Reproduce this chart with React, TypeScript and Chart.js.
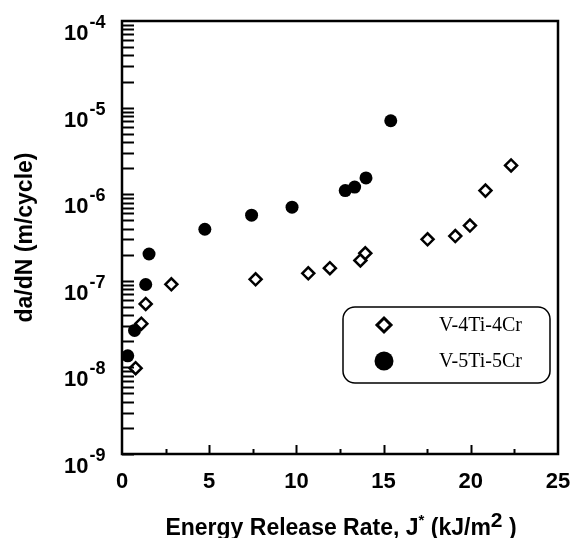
import React, { useEffect, useRef } from "react";
import { Chart, registerables } from "chart.js";

Chart.register(...registerables);

// V-4Ti-4Cr (open diamonds)
const jV4Ti4Cr = [0.78, 1.11, 1.36, 2.83, 7.66, 10.68, 11.92, 13.67, 13.95, 17.52, 19.11, 19.95, 20.84, 22.31];
const rateV4Ti4Cr = [9.8e-9, 3.2e-8, 5.4e-8, 9.1e-8, 1.04e-7, 1.22e-7, 1.4e-7, 1.72e-7, 2.08e-7, 3.01e-7, 3.29e-7, 4.34e-7, 1.1e-6, 2.15e-6];

// V-5Ti-5Cr (filled circles)
const jV5Ti5Cr = [0.33, 0.72, 1.36, 1.55, 4.75, 7.43, 9.75, 12.8, 13.34, 13.99, 15.41];
const rateV5Ti5Cr = [1.36e-8, 2.67e-8, 9.06e-8, 2.04e-7, 3.94e-7, 5.73e-7, 7.08e-7, 1.1e-6, 1.21e-6, 1.54e-6, 7.05e-6];

const seriesNames = ["V-4Ti-4Cr", "V-5Ti-5Cr"];
const xTickValues = [0, 5, 10, 15, 20, 25];
const yTickExponents = [-9, -8, -7, -6, -5, -4];
const xTitleParts = ["Energy Release Rate, J", "*", " (kJ/m", "2", " )"];
const yTitle = "da/dN (m/cycle)";

const SANS = "'Liberation Sans', Arial, sans-serif";
const SERIF = "'Liberation Serif', 'Times New Roman', serif";

const decorPlugin = {
  id: "decor",
  afterDraw(chart: any) {
    const ctx = chart.ctx as CanvasRenderingContext2D;
    const { left, right, top, bottom } = chart.chartArea;
    const xs = chart.scales.x;
    const ys = chart.scales.y;
    ctx.save();
    ctx.strokeStyle = "#000";
    ctx.fillStyle = "#000";

    // y ticks (inward)
    ctx.lineWidth = 2;
    for (let e = -9; e < -4; e++) {
      for (let m = 1; m <= 9; m++) {
        const py = Math.round(ys.getPixelForValue(m * Math.pow(10, e))) + 0.5;
        ctx.beginPath();
        ctx.moveTo(left, py);
        ctx.lineTo(left + 12, py);
        ctx.stroke();
      }
    }
    // x ticks (inward)
    for (let v = 2.5; v < 25; v += 2.5) {
      const px = Math.round(xs.getPixelForValue(v)) + 0.5;
      const len = Math.abs(v % 5) < 1e-6 ? 9 : 5;
      ctx.beginPath();
      ctx.moveTo(px, bottom);
      ctx.lineTo(px, bottom - len);
      ctx.stroke();
    }

    // frame
    ctx.lineWidth = 2.5;
    ctx.strokeRect(left, top, right - left, bottom - top);

    // y tick labels 10^n
    for (const e of yTickExponents) {
      const py = ys.getPixelForValue(Math.pow(10, e));
      ctx.font = `bold 22px ${SANS}`;
      ctx.textAlign = "left";
      ctx.textBaseline = "alphabetic";
      ctx.fillText("10", 64, py + 19);
      const w = ctx.measureText("10").width;
      ctx.font = `bold 18px ${SANS}`;
      ctx.fillText(String(e), 64 + w + 1, py + 7);
    }

    // x tick labels
    ctx.font = `bold 22px ${SANS}`;
    ctx.textAlign = "center";
    ctx.textBaseline = "alphabetic";
    for (const v of xTickValues) {
      ctx.fillText(String(v), xs.getPixelForValue(v), 488);
    }

    // x title with superscripts
    const big = `bold 23px ${SANS}`;
    const small = `bold 15px ${SANS}`;
    const sup = `bold 21px ${SANS}`;
    const sizes = [big, small, big, sup, big];
    const offs = [0, -10, 0, -8, 0];
    let total = 0;
    const widths: number[] = [];
    xTitleParts.forEach((t, i) => {
      ctx.font = sizes[i];
      const w = ctx.measureText(t).width;
      widths.push(w);
      total += w;
    });
    let cx = (left + right) / 2 + 1 - total / 2;
    ctx.textAlign = "left";
    xTitleParts.forEach((t, i) => {
      ctx.font = sizes[i];
      ctx.fillText(t, cx, 535 + offs[i]);
      cx += widths[i];
    });

    // y title
    ctx.save();
    ctx.translate(32, (top + bottom) / 2);
    ctx.rotate(-Math.PI / 2);
    ctx.font = `bold 23px ${SANS}`;
    ctx.textAlign = "center";
    ctx.textBaseline = "alphabetic";
    ctx.fillText(yTitle, 0, 0);
    ctx.restore();

    // legend box
    ctx.lineWidth = 1.5;
    ctx.beginPath();
    (ctx as any).roundRect(343, 307, 207, 76, 12);
    ctx.stroke();
    // diamond
    ctx.lineWidth = 3;
    ctx.beginPath();
    const dx = 384, dy = 325, dr = 7;
    ctx.moveTo(dx, dy - dr);
    ctx.lineTo(dx + dr, dy);
    ctx.lineTo(dx, dy + dr);
    ctx.lineTo(dx - dr, dy);
    ctx.closePath();
    ctx.fillStyle = "#fff";
    ctx.fill();
    ctx.stroke();
    ctx.fillStyle = "#000";
    ctx.beginPath();
    ctx.arc(384, 361, 9.5, 0, Math.PI * 2);
    ctx.fill();
    ctx.font = `20px ${SERIF}`;
    ctx.textAlign = "left";
    ctx.textBaseline = "middle";
    ctx.fillText(seriesNames[0], 439, 326);
    ctx.fillText(seriesNames[1], 439, 362);

    ctx.restore();
  },
};

export default function App() {
  const ref = useRef<HTMLCanvasElement | null>(null);
  useEffect(() => {
    document.body.style.margin = "0";
    document.body.style.background = "#fff";
    if (!ref.current) return;
    const chart = new Chart(ref.current, {
      type: "scatter",
      data: {
        datasets: [
          {
            label: seriesNames[0],
            data: jV4Ti4Cr.map((x, i) => ({ x, y: rateV4Ti4Cr[i] })),
            pointStyle: "rectRot",
            pointRadius: 6,
            pointBorderWidth: 2.5,
            borderColor: "#000",
            backgroundColor: "#fff",
            showLine: false,
          },
          {
            label: seriesNames[1],
            data: jV5Ti5Cr.map((x, i) => ({ x, y: rateV5Ti5Cr[i] })),
            pointStyle: "circle",
            pointRadius: 6.5,
            pointBorderWidth: 0,
            borderColor: "#000",
            backgroundColor: "#000",
            showLine: false,
          },
        ],
      },
      options: {
        responsive: false,
        animation: false,
        devicePixelRatio: 1,
        layout: { padding: { left: 122, top: 21, right: 13, bottom: 84 } },
        plugins: { legend: { display: false }, tooltip: { enabled: false } },
        scales: {
          x: { type: "linear", min: 0, max: 25, display: false },
          y: { type: "logarithmic", min: 1e-9, max: 1e-4, display: false },
        },
      },
      plugins: [decorPlugin],
    });
    return () => chart.destroy();
  }, []);
  return (
    <div style={{ width: 571, height: 538, background: "#fff" }}>
      <canvas ref={ref} width={571} height={538} />
    </div>
  );
}
